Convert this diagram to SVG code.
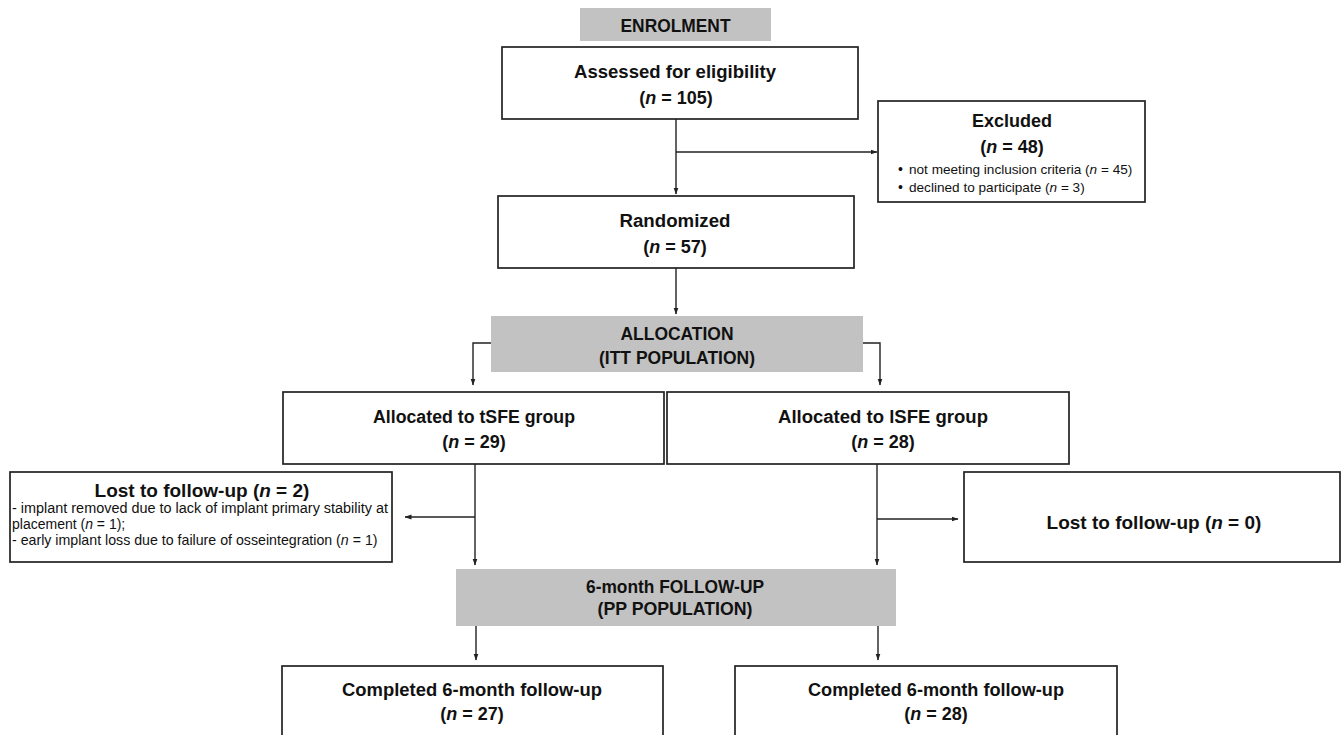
<svg xmlns="http://www.w3.org/2000/svg" width="1341" height="735" viewBox="0 0 1341 735">
<style>
  .box{fill:#fff;stroke:#222;stroke-width:1.7}
  .gray{fill:#c2c2c2;stroke:none}
  .t{font-family:"Liberation Sans",Arial,sans-serif;font-weight:bold;font-size:18px;fill:#111;text-anchor:middle}
  .s{font-family:"Liberation Sans",Arial,sans-serif;font-size:14px;fill:#111}
  .i{font-style:italic}
  .c{fill:none;stroke:#222;stroke-width:1.4}
</style>
<defs>
  <marker id="ah" markerWidth="7" markerHeight="6" refX="6.5" refY="3" orient="auto" markerUnits="userSpaceOnUse">
    <path d="M0,0.5 L7,3 L0,5.5 Z" fill="#222"/>
  </marker>
</defs>
<rect width="1341" height="735" fill="#fff"/>

<g id="connectors">
  <path class="c" d="M676,119 V194" marker-end="url(#ah)"/>
  <path class="c" d="M676,152 H877" marker-end="url(#ah)"/>
  <path class="c" d="M676,268 V314" marker-end="url(#ah)"/>
  <path class="c" d="M491,343 H473 V385" marker-end="url(#ah)"/>
  <path class="c" d="M863,343 H880 V385" marker-end="url(#ah)"/>
  <path class="c" d="M475,464 V565" marker-end="url(#ah)"/>
  <path class="c" d="M475,517 H405" marker-end="url(#ah)"/>
  <path class="c" d="M877,464 V565" marker-end="url(#ah)"/>
  <path class="c" d="M877,519 H958" marker-end="url(#ah)"/>
  <path class="c" d="M476,626 V660" marker-end="url(#ah)"/>
  <path class="c" d="M878,626 V660" marker-end="url(#ah)"/>
</g>

<g id="enrolment">
  <rect class="gray" x="580" y="8" width="191" height="33"/>
  <text class="t" x="675.5" y="32" textLength="110" lengthAdjust="spacingAndGlyphs">ENROLMENT</text>
</g>

<g id="assessed">
  <rect class="box" x="502" y="47" width="356" height="72"/>
  <text class="t" x="675" y="78" textLength="202" lengthAdjust="spacingAndGlyphs">Assessed for eligibility</text>
  <text class="t" x="676" y="104">(<tspan class="i">n</tspan> = 105)</text>
</g>

<g id="excluded">
  <rect class="box" x="878" y="101" width="267" height="101"/>
  <text class="t" x="1012" y="127">Excluded</text>
  <text class="t" x="1012" y="153">(<tspan class="i">n</tspan> = 48)</text>
  <text class="s" x="898" y="174">•</text>
  <text class="s" x="909" y="174" style="font-size:13.6px">not meeting inclusion criteria (<tspan class="i">n</tspan> = 45)</text>
  <text class="s" x="898" y="192">•</text>
  <text class="s" x="909" y="192" style="font-size:13.6px">declined to participate (<tspan class="i">n</tspan> = 3)</text>
</g>

<g id="randomized">
  <rect class="box" x="498" y="196" width="356" height="72"/>
  <text class="t" x="675" y="227" textLength="111" lengthAdjust="spacingAndGlyphs">Randomized</text>
  <text class="t" x="675" y="253">(<tspan class="i">n</tspan> = 57)</text>
</g>

<g id="allocation">
  <rect class="gray" x="491" y="316" width="372" height="56"/>
  <text class="t" x="677" y="340" textLength="113" lengthAdjust="spacingAndGlyphs">ALLOCATION</text>
  <text class="t" x="677" y="364" textLength="156" lengthAdjust="spacingAndGlyphs">(ITT POPULATION)</text>
</g>

<g id="tsfe">
  <rect class="box" x="283" y="392" width="381" height="72"/>
  <text class="t" x="474" y="423" textLength="202" lengthAdjust="spacingAndGlyphs">Allocated to tSFE group</text>
  <text class="t" x="474" y="448">(<tspan class="i">n</tspan> = 29)</text>
</g>

<g id="isfe">
  <rect class="box" x="667" y="392" width="402" height="72"/>
  <text class="t" x="883" y="423" textLength="210" lengthAdjust="spacingAndGlyphs">Allocated to lSFE group</text>
  <text class="t" x="883" y="448">(<tspan class="i">n</tspan> = 28)</text>
</g>

<g id="lost-tsfe">
  <rect class="box" x="10" y="472" width="382" height="90"/>
  <text class="t" x="202" y="497" style="font-size:19px">Lost to follow-up (<tspan class="i">n</tspan> = 2)</text>
  <text class="s" x="12" y="513" textLength="376" lengthAdjust="spacingAndGlyphs">- implant removed due to lack of implant primary stability at</text>
  <text class="s" x="12" y="529">placement (<tspan class="i">n</tspan> = 1);</text>
  <text class="s" x="12" y="545" style="font-size:14.2px">- early implant loss due to failure of osseintegration (<tspan class="i">n</tspan> = 1)</text>
</g>

<g id="lost-isfe">
  <rect class="box" x="964" y="472" width="376" height="90"/>
  <text class="t" x="1154" y="529" style="font-size:19px">Lost to follow-up (<tspan class="i">n</tspan> = 0)</text>
</g>

<g id="followup">
  <rect class="gray" x="456" y="569" width="440" height="57"/>
  <text class="t" x="675" y="593" textLength="178" lengthAdjust="spacingAndGlyphs">6-month FOLLOW-UP</text>
  <text class="t" x="675" y="615" textLength="155" lengthAdjust="spacingAndGlyphs">(PP POPULATION)</text>
</g>

<g id="completed-tsfe">
  <rect class="box" x="282" y="666" width="381" height="80"/>
  <text class="t" x="472" y="696" textLength="260" lengthAdjust="spacingAndGlyphs">Completed 6-month follow-up</text>
  <text class="t" x="472" y="720">(<tspan class="i">n</tspan> = 27)</text>
</g>

<g id="completed-isfe">
  <rect class="box" x="735" y="666" width="382" height="80"/>
  <text class="t" x="936" y="696" textLength="256" lengthAdjust="spacingAndGlyphs">Completed 6-month follow-up</text>
  <text class="t" x="936" y="720">(<tspan class="i">n</tspan> = 28)</text>
</g>
</svg>
